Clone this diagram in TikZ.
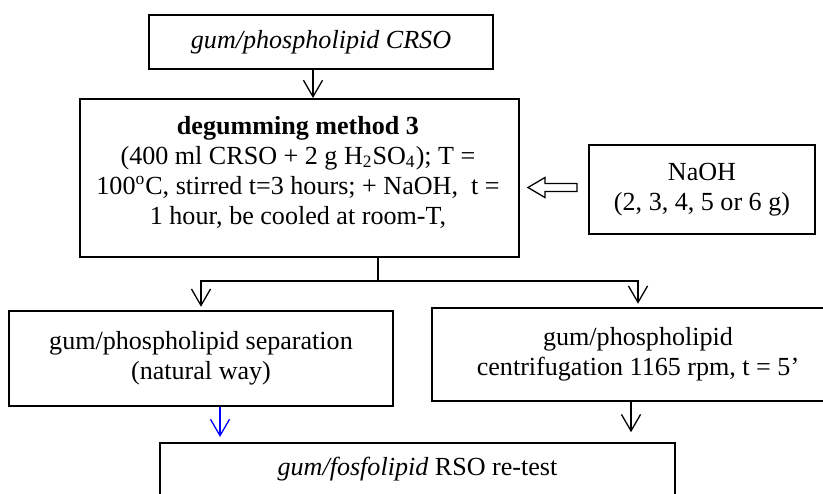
\documentclass[tikz,border=0pt]{standalone}
\usepackage{fontspec}
\setmainfont{Liberation Serif}
\usetikzlibrary{arrows.meta,positioning,calc}
\tikzstyle{block} = [draw, rectangle, line width=0.9pt, align=center, inner sep=0pt]
\tikzstyle{line} = [draw, line width=0.6pt]

\begin{document}
\begin{tikzpicture}[x=0.46pt, y=-0.46pt, >={Straight Barb[length=7.6pt,width=8.8pt]},
    font=\fontsize{12}{13.8}\selectfont]
    \useasboundingbox (0,0) rectangle (823,493);
    % Boxes
    \node [block, minimum width=158.2pt, minimum height=24.8pt] (crude) at (321,42) {\textit{gum/phospholipid CRSO}};
    \node [block, minimum width=201.9pt, minimum height=72.7pt] (degum) at (299.5,178) {};
    \node [align=center, inner sep=0pt] (degumtext) at ($(degum.center)+(-1.5,-6)$)
        {\textbf{degumming method 3}\\(400 ml CRSO + 2 g H\textsubscript{2}SO\textsubscript{4}); T =\\
         100\textsuperscript{o}C, stirred t=3 hours; + NaOH,\ \ t =\\1 hour, be cooled at room-T,};
    \node [block, minimum width=104pt, minimum height=40.9pt] (naoh) at (702,189.5) {NaOH\\(2, 3, 4, 5 or 6 g)};
    \node [block, minimum width=176.6pt, minimum height=43.7pt] (natural) at (201,358.5)
        {gum/phospholipid separation\\(natural way)};
    \node [block, minimum width=189.5pt, minimum height=42.8pt] (centrif) at (638,354.5)
        {gum/phospholipid\\centrifugation 1165 rpm, t = 5’};
    \node [block, minimum width=236.9pt, minimum height=24.4pt] (retest) at (417.5,469.5)
        {\textit{gum/fosfolipid} RSO re-test};

    % Connections
    \coordinate (intop) at ($(crude.south)+(-8,0)$);
    \draw [line, ->] (intop) -- (intop |- degum.north);

    % NaOH feed
    \coordinate (feed) at ($(naoh.west)+(-11,-2)$);
    \draw [line] (feed) -- ++(0,-4) -- ++(-32,0) -- ++(0,-6) -- ++(-17,10)
        -- ++(17,10) -- ++(0,-6) -- ++(32,0) -- cycle;

    \coordinate (stem) at ($(degum.south)+(78.5,0)$);
    \coordinate (split) at ($(stem)+(0,23)$);
    \draw [line] (stem) -- (split);
    \draw [line, ->, shorten >=1.5pt] (split) -| (natural.north);
    \draw [line, ->, shorten >=1.5pt] (split) -| (centrif.north);

    \coordinate (natout) at ($(natural.south)+(19,0)$);
    \draw [line, ->, blue, shorten >=2.3pt] (natout) -- (natout |- retest.north);
    \coordinate (cenout) at ($(centrif.south)+(-7,0)$);
    \draw [line, ->, shorten >=4.5pt] (cenout) -- (cenout |- retest.north);
\end{tikzpicture}
\end{document}
